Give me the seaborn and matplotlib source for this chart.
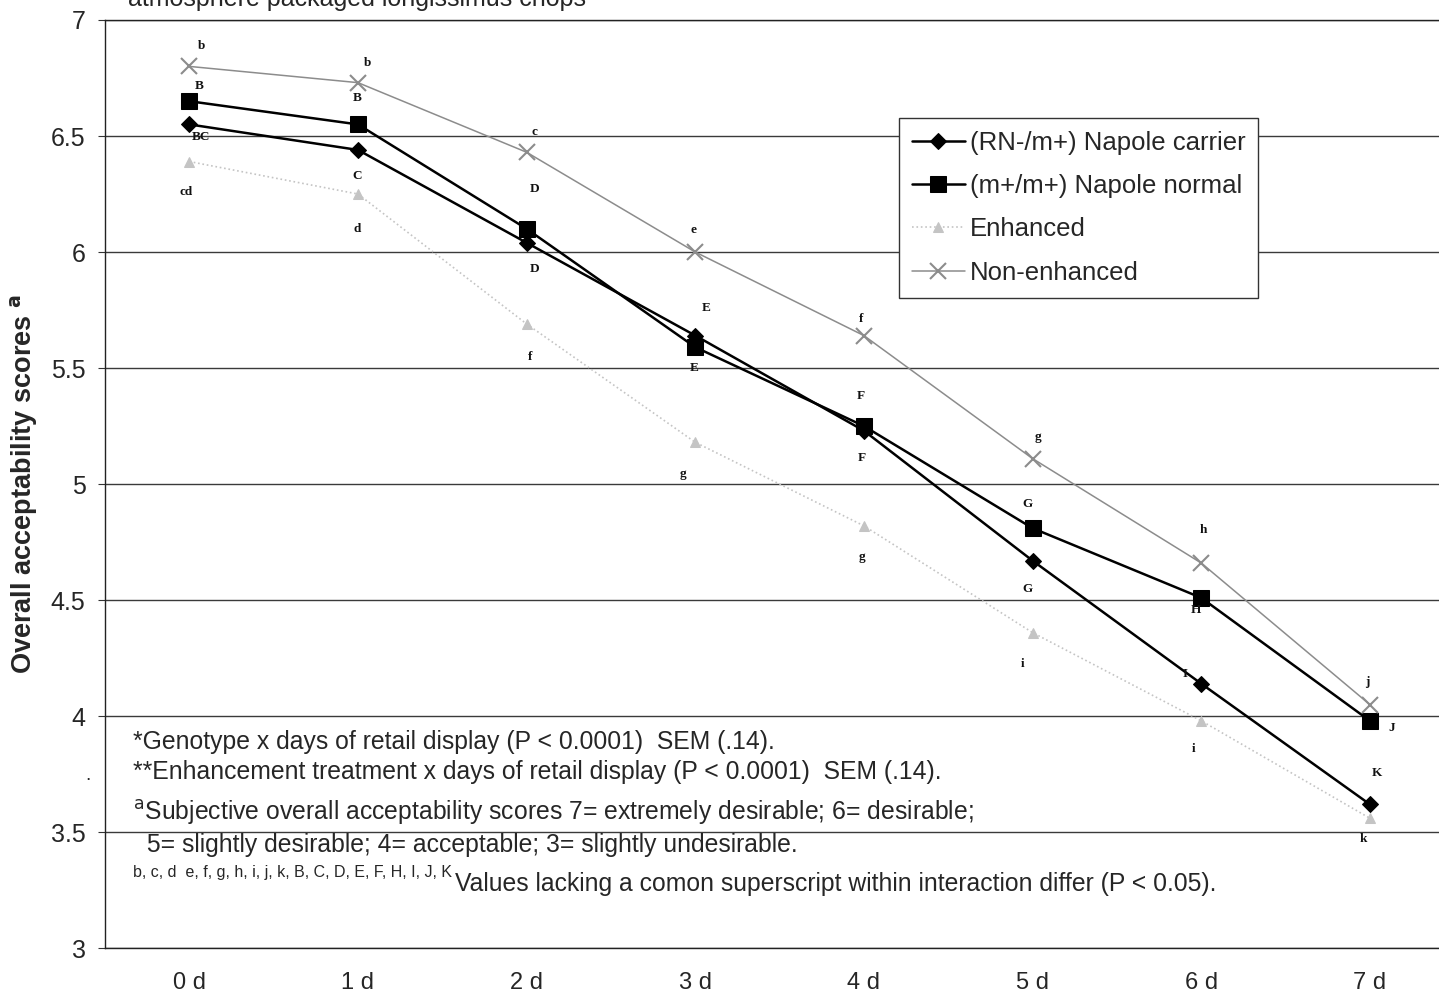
import matplotlib
matplotlib.use("Agg")
import matplotlib.pyplot as plt
import pandas as pd
import seaborn as sns

days = ["0 d", "1 d", "2 d", "3 d", "4 d", "5 d", "6 d", "7 d"]
carrier = [6.55, 6.44, 6.04, 5.64, 5.23, 4.67, 4.14, 3.62]
normal = [6.65, 6.55, 6.10, 5.59, 5.25, 4.81, 4.51, 3.98]
enhanced = [6.39, 6.25, 5.69, 5.18, 4.82, 4.36, 3.98, 3.56]
non_enhanced = [6.80, 6.73, 6.43, 6.00, 5.64, 5.11, 4.66, 4.05]

carrier_sup = ["BC", "C", "D", "E", "F", "G", "I", "K"]
normal_sup = ["B", "B", "D", "E", "F", "G", "H", "J"]
enhanced_sup = ["cd", "d", "f", "g", "g", "i", "i", "k"]
non_enhanced_sup = ["b", "b", "c", "e", "f", "g", "h", "j"]

series_names = ["(RN-/m+) Napole carrier", "(m+/m+) Napole normal", "Enhanced", "Non-enhanced"]

# letter offsets in pixels (dx, dy up)
carrier_off = [(12, -13), (-1, -26), (8, -26), (11, 28), (-2, -27), (-5, -28), (-16, 10), (7, 31)]
normal_off = [(10, 15), (-1, 26), (8, 40), (-1, -21), (-3, 30), (-5, 24), (-5, -12), (22, -7)]
enhanced_off = [(-3, -30), (-1, -35), (3, -33), (-12, -32), (-2, -31), (-10, -31), (-8, -28), (-6, -21)]
non_enh_off = [(12, 20), (10, 20), (8, 20), (-2, 22), (-3, 17), (5, 22), (2, 33), (-2, 23)]

sans = ["Liberation Sans", "DejaVu Sans"]

sns.set_style("white")
plt.rcParams["font.family"] = sans

fig = plt.figure(figsize=(14.39, 9.97), dpi=100)
ax = fig.add_axes([0.073, 0.049, 0.9375, 1 - 0.049 - 20 / 997])

styles = [
    dict(color="black", marker="D", markersize=8, linewidth=1.8, linestyle="-"),
    dict(color="black", marker="s", markersize=11, linewidth=1.8, linestyle="-"),
    dict(color="#c4c4c4", marker="^", markersize=7, linewidth=1.2, linestyle=":"),
    dict(color="#8c8c8c", marker="x", markersize=11, markeredgewidth=1.5, linewidth=1.1, linestyle="-"),
]
all_vals = [carrier, normal, enhanced, non_enhanced]
for name, vals, st in zip(series_names, all_vals, styles):
    df = pd.DataFrame({"day": days, "score": vals})
    sns.lineplot(data=df, x="day", y="score", ax=ax, label=name, sort=False,
                 markeredgecolor=st["color"], markerfacecolor=st["color"], **st)

sups = [carrier_sup, normal_sup, enhanced_sup, non_enhanced_sup]
offs = [carrier_off, normal_off, enhanced_off, non_enh_off]
for vals, letters, off in zip(all_vals, sups, offs):
    for i, (v, s, o) in enumerate(zip(vals, letters, off)):
        ax.annotate(s, (i, v), xytext=o, textcoords="offset pixels",
                    ha="center", va="center", fontsize=9.5, fontweight="bold",
                    family=["Liberation Serif", "DejaVu Serif"], color="#111111")

ax.set_xlim(-0.5, 7.5)
ax.set_ylim(3, 7)
ax.set_yticks([3, 3.5, 4, 4.5, 5, 5.5, 6, 6.5, 7])
ax.set_yticklabels(["3", "3.5", "4", "4.5", "5", "5.5", "6", "6.5", "7"], fontsize=18)
ax.set_xticks(range(len(days)))
ax.set_xticklabels(days, fontsize=17)
ax.set_xticks([i + 0.5 for i in range(len(days) - 1)], minor=True)
ax.tick_params(axis="x", which="major", length=0, pad=17)
ax.tick_params(axis="x", which="minor", length=5, color="#333333", direction="out")
ax.tick_params(axis="y", length=5, color="#333333", direction="out", left=True, pad=9)

ax.grid(axis="y", color="#3a3a3a", linewidth=1.0)
ax.set_axisbelow(True)
for sp in ["left", "bottom", "top"]:
    ax.spines[sp].set_color("#222222")
    ax.spines[sp].set_linewidth(1.0)
ax.spines["right"].set_visible(False)

ax.set_xlabel("")
ax.set_ylabel(r"Overall acceptability scores $^{\mathbf{a}}$", fontsize=19.5, fontweight="bold", labelpad=8)

leg = ax.legend(loc="upper left", bbox_to_anchor=(899 / 1439, 1 - 118 / 997),
                bbox_transform=fig.transFigure, fontsize=18.5, frameon=True, fancybox=False,
                framealpha=1, edgecolor="#333333", handlelength=2.05, labelspacing=0.75,
                borderpad=0.5, handletextpad=0.2, borderaxespad=0)
leg.get_frame().set_linewidth(1.0)

fig.text(128 / 1439, 1 - 6 / 997, "atmosphere packaged longissimus chops",
         fontsize=18, va="baseline", ha="left")

notes = [
    (133, 742, "*Genotype x days of retail display (P < 0.0001)  SEM (.14)."),
    (133, 772, "**Enhancement treatment x days of retail display (P < 0.0001)  SEM (.14)."),
    (133, 812, r"$^{\mathrm{a}}$Subjective overall acceptability scores 7= extremely desirable; 6= desirable;"),
    (140, 845, " 5= slightly desirable; 4= acceptable; 3= slightly undesirable."),
    (455, 884, "Values lacking a comon superscript within interaction differ (P < 0.05)."),
]
for x, y, t in notes:
    fig.text(x / 1439, 1 - y / 997, t, fontsize=17.8, va="center", ha="left")
fig.text(133 / 1439, 1 - 873 / 997, "b, c, d  e, f, g, h, i, j, k, B, C, D, E, F, H, I, J, K",
         fontsize=11.5, va="center", ha="left")
fig.text(85 / 1439, 1 - 775 / 997, ".", fontsize=14, va="center")

fig.savefig("out.png", dpi=100)
